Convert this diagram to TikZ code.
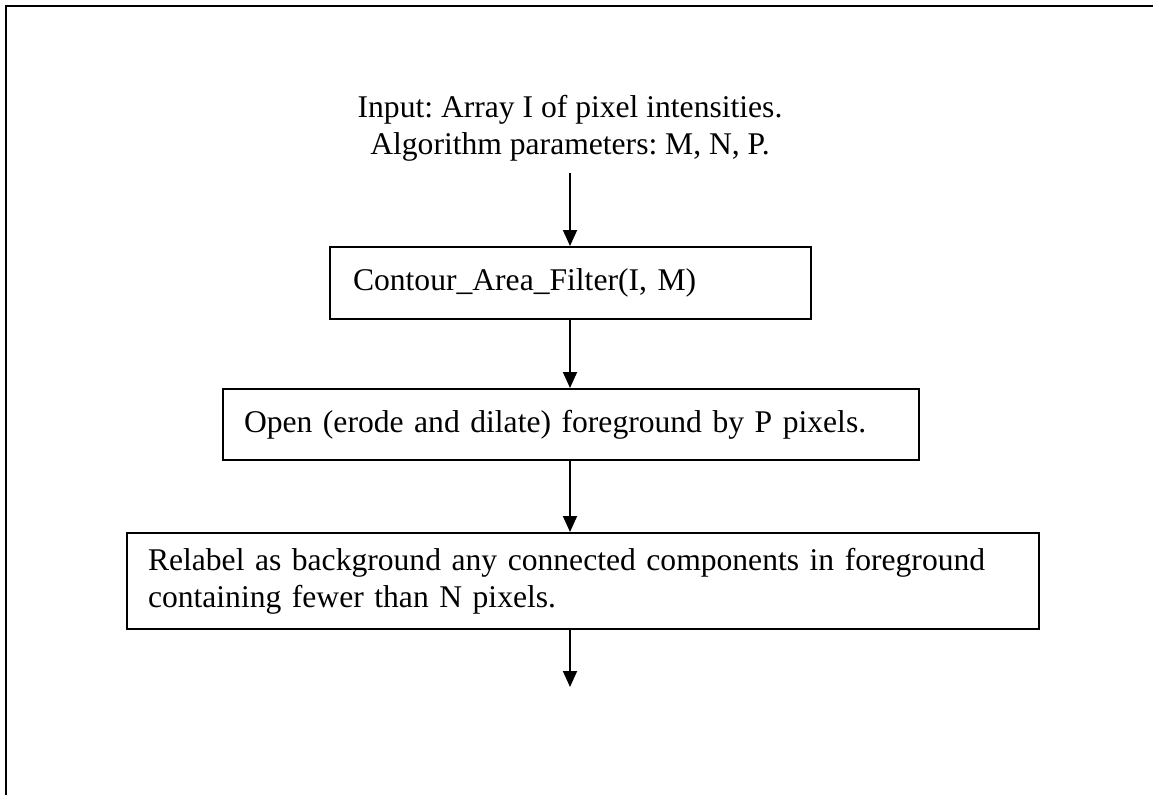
\documentclass[tikz,border=0pt]{standalone}
\usepackage{fontspec}
\setmainfont{Liberation Serif}
\frenchspacing
\usetikzlibrary{arrows.meta}
\begin{document}
\begin{tikzpicture}[x=1pt,y=-1pt,
  txt/.style={font=\fontsize{31.6}{37}\selectfont},
  flow/.style={line width=1.8pt,-{Triangle[length=16pt,width=14pt]}},
  stepbox/.style={txt,draw,line width=2pt,rectangle,inner ysep=0pt,anchor=north west,
    align=left},
  frame/.style={line width=2.5pt}]
\useasboundingbox (0,0) rectangle (1153,795);
% page frame (top and left edges)
\draw[frame] (6,795) -- (6,6) -- (1153,6);
% input description
\node[txt,align=center,inner sep=0pt,anchor=north] (in) at (570,95)
  {Input: Array I of pixel intensities.\\Algorithm parameters: M, N, P.};
% processing steps
\node[stepbox,inner xsep=23pt,minimum width=481pt,minimum height=72pt,text width=435pt] (b1) at (329,246)
  {Contour\_Area\_Filter(I, M)};
\node[stepbox,inner xsep=21pt,minimum width=696pt,minimum height=71pt,text width=654pt] (b2) at (222,388)
  {Open (erode and dilate) foreground by P pixels.};
\node[stepbox,inner xsep=21pt,minimum width=912pt,minimum height=96pt,text width=870pt] (b3) at (126,532)
  {Relabel as background any connected components in foreground\\containing fewer than N pixels.};
\coordinate (out) at (570,687);
% connectors
\draw[flow] (570,173) -- (b1.north -| 570,0);
\draw[flow] (b1.south -| 570,0) -- (b2.north -| 570,0);
\draw[flow] (b2.south -| 570,0) -- (b3.north -| 570,0);
\draw[flow] (b3.south -| 570,0) -- (out);
\end{tikzpicture}
\end{document}
